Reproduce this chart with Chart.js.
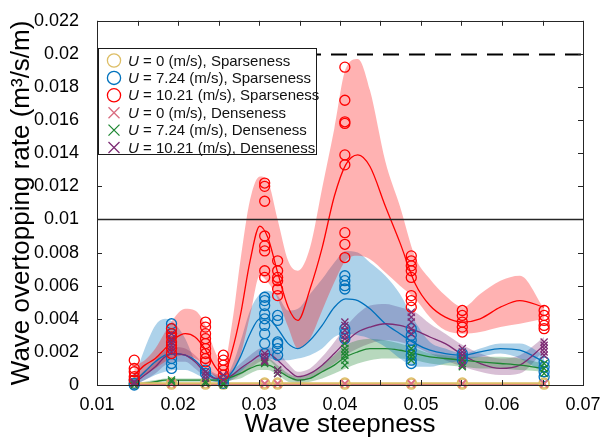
<!DOCTYPE html>
<html>
<head>
<meta charset="utf-8">
<script src="https://cdn.jsdelivr.net/npm/chart.js@4.4.1/dist/chart.umd.min.js"></script>
<style>
  html, body { margin: 0; padding: 0; background: #fff; }
  canvas { display: block; }
</style>
</head>
<body>
<canvas id="chart" width="607" height="442"></canvas>
<script>
// wave steepness of each test condition (marker columns)
const steepness = [0.0146, 0.0192, 0.0234, 0.0256, 0.0307, 0.0323, 0.0406, 0.0488, 0.0551, 0.0652];

// measured overtopping rates, one list per column
const u0Sparse = [
    [0.00012, 0.00005], [0.00012, 0.00005], [0.00012, 0.00005], [0.00012, 0.00005], [0.00012, 0.00005],
    [0.00012, 0.00005], [0.00012, 0.00005], [0.00012, 0.00005], [0.00012, 0.00005], [0.00012, 0.00005]
];
const u724Sparse = [
    [0.0003, 0.0001, 0.0],
    [0.0037, 0.0034, 0.0031, 0.0016, 0.0013, 0.001],
    [0.0009, 0.0007],
    [0.0003, 0.0001],
    [0.0053, 0.0051, 0.0048, 0.0043, 0.004, 0.0036, 0.0031, 0.0025, 0.0019],
    [0.0042, 0.0039, 0.0026, 0.0025, 0.0022, 0.0018],
    [0.0066, 0.0063, 0.006, 0.0058, 0.0034, 0.0031, 0.0028],
    [0.0034, 0.003, 0.0027, 0.0024, 0.0021, 0.0018, 0.0015, 0.0013],
    [0.0019, 0.0017, 0.0015],
    [0.0014, 0.0011, 0.0008, 0.0005]
];
const u1021Sparse = [
    [0.0015, 0.001, 0.0008, 0.0005, 0.0003],
    [0.0034, 0.0031, 0.0029, 0.0026, 0.0024, 0.0022, 0.0019],
    [0.0038, 0.0035, 0.0031, 0.0028, 0.0025, 0.0022, 0.0019, 0.0016, 0.0014],
    [0.0018, 0.0015, 0.0012, 0.0009, 0.0006],
    [0.0122, 0.012, 0.0111, 0.009, 0.0084, 0.0081, 0.0069, 0.0065],
    [0.0075, 0.0069, 0.0065, 0.0063, 0.0058, 0.0054],
    [0.0192, 0.0172, 0.0159, 0.0158, 0.0139, 0.0133, 0.0092, 0.0085, 0.0077],
    [0.0078, 0.0075, 0.0072, 0.0069, 0.0065, 0.0054, 0.0051, 0.0047],
    [0.0045, 0.0042, 0.0038, 0.0035, 0.0032],
    [0.0045, 0.0042, 0.0039, 0.0036, 0.0034]
];
const u0Dense = [
    [0.0001, 0.00005], [0.0001, 0.00005], [0.0001, 0.00005], [0.0001, 0.00005], [0.0001, 0.00005],
    [0.0001, 0.00005], [0.0001, 0.00005], [0.0001, 0.00005], [0.0001, 0.00005], [0.0001, 0.00005]
];
const u724Dense = [
    [0.0001, 0.0],
    [0.0003, 0.0002],
    [0.0002, 0.0001],
    [0.0001, 0.0],
    [0.0014, 0.0013],
    [0.0009, 0.0007],
    [0.0025, 0.0022, 0.002, 0.0018, 0.0015, 0.0012],
    [0.0022, 0.0019, 0.0017, 0.0015],
    [0.0016, 0.0013, 0.0011],
    [0.0013, 0.001, 0.0007]
];
const u1021Dense = [
    [0.0002, 0.0001],
    [0.0031, 0.0028, 0.0026, 0.0024, 0.0022, 0.002],
    [0.0008, 0.0006, 0.0004],
    [0.0006, 0.0003],
    [0.0019, 0.0017, 0.0015, 0.0014],
    [0.0009, 0.0007],
    [0.0038, 0.0036, 0.0033, 0.003, 0.0028],
    [0.0044, 0.0041, 0.0038, 0.0034, 0.0031],
    [0.0022, 0.002, 0.0018, 0.0015, 0.0012],
    [0.0026, 0.0024, 0.0022, 0.002, 0.0018]
];

// fitted curves and their bands, read at these steepness values
const curveX = [0.0146, 0.0159, 0.0172, 0.0184, 0.0196, 0.0209, 0.0221, 0.0233, 0.0246, 0.0256,
    0.0267, 0.0277, 0.0289, 0.0301, 0.0311, 0.0323, 0.0336, 0.0348, 0.0363, 0.0378,
    0.0393, 0.0407, 0.0422, 0.0437, 0.0456, 0.0474, 0.0493, 0.0511, 0.0530, 0.0552,
    0.0573, 0.0598, 0.0622, 0.0652];

const fit1021Sparse = [0.0006, 0.0012, 0.0016, 0.0022, 0.0028, 0.0031, 0.0029, 0.0022, 0.0011, 0.0006,
    0.0021, 0.0042, 0.0075, 0.0096, 0.0089, 0.0068, 0.0047, 0.0039, 0.0058, 0.0083,
    0.0114, 0.0133, 0.0139, 0.0132, 0.0108, 0.0086, 0.0061, 0.0048, 0.0041, 0.0038,
    0.004, 0.0047, 0.0051, 0.0047];
const hi1021Sparse = [0.0012, 0.0015, 0.0022, 0.0032, 0.0041, 0.0046, 0.0045, 0.0037, 0.002, 0.0012,
    0.0038, 0.0075, 0.0112, 0.0126, 0.0123, 0.01, 0.0075, 0.0069, 0.0083, 0.0119,
    0.0155, 0.0191, 0.0197, 0.0178, 0.0135, 0.0108, 0.0077, 0.0064, 0.0054, 0.0047,
    0.0055, 0.0063, 0.0066, 0.0046];
const lo1021Sparse = [0.0002, 0.0006, 0.001, 0.0014, 0.0017, 0.0018, 0.0016, 0.0012, 0.0005, 0.0002,
    0.0008, 0.0018, 0.0042, 0.0066, 0.0062, 0.0052, 0.0035, 0.0022, 0.0028, 0.0045,
    0.0062, 0.0075, 0.0078, 0.0076, 0.0068, 0.006, 0.0052, 0.0041, 0.0033, 0.0031,
    0.0032, 0.0035, 0.0037, 0.004];

const fit724Sparse = [0.0002, 0.0008, 0.0014, 0.0018, 0.0019, 0.0018, 0.0015, 0.0009, 0.0004, 0.0003,
    0.0008, 0.0017, 0.0031, 0.004, 0.004, 0.0034, 0.0025, 0.0022, 0.0027, 0.0036,
    0.0047, 0.0052, 0.0051, 0.0046, 0.0037, 0.0031, 0.0025, 0.0021, 0.0019, 0.0018,
    0.002, 0.0022, 0.0021, 0.0014];
const hi724Sparse = [0.0004, 0.0022, 0.0036, 0.004, 0.0037, 0.0028, 0.0015, 0.001, 0.0006, 0.0004,
    0.0012, 0.0026, 0.0045, 0.0055, 0.0057, 0.0054, 0.0045, 0.0046, 0.0055, 0.0064,
    0.0074, 0.0081, 0.008, 0.0074, 0.0066, 0.0055, 0.0038, 0.0026, 0.0022, 0.0019,
    0.0022, 0.0025, 0.0025, 0.0018];
const lo724Sparse = [0.0, 0.0003, 0.0006, 0.0008, 0.0009, 0.0009, 0.0007, 0.0004, 0.0002, 0.0001,
    0.0004, 0.0008, 0.0013, 0.0016, 0.0016, 0.0015, 0.0015, 0.0016, 0.0018, 0.0022,
    0.0029, 0.0031, 0.003, 0.0028, 0.0023, 0.0016, 0.0011, 0.0011, 0.0013, 0.0015,
    0.0017, 0.0019, 0.0016, 0.0007];

const fit1021Dense = [0.0001, 0.0006, 0.0011, 0.0017, 0.0019, 0.0018, 0.0014, 0.0008, 0.0004, 0.0004,
    0.0006, 0.001, 0.0014, 0.0018, 0.0019, 0.0015, 0.0009, 0.0005, 0.0007, 0.0012,
    0.0019, 0.0026, 0.0032, 0.0035, 0.0037, 0.0036, 0.0033, 0.0029, 0.0025, 0.0018,
    0.0013, 0.001, 0.0012, 0.0024];
const hi1021Dense = [0.0003, 0.0009, 0.0015, 0.0021, 0.0023, 0.0022, 0.0018, 0.0012, 0.0007, 0.0006,
    0.0009, 0.0013, 0.0018, 0.0022, 0.0023, 0.002, 0.0013, 0.0008, 0.001, 0.0017,
    0.0026, 0.0035, 0.0043, 0.0048, 0.0049, 0.0047, 0.0044, 0.0037, 0.0031, 0.0024,
    0.0019, 0.0016, 0.0018, 0.0029];
const lo1021Dense = [0.0, 0.0003, 0.0007, 0.0012, 0.0014, 0.0014, 0.001, 0.0005, 0.0002, 0.0002,
    0.0003, 0.0006, 0.001, 0.0014, 0.0015, 0.001, 0.0005, 0.0002, 0.0004, 0.0008,
    0.0013, 0.0018, 0.0022, 0.0025, 0.0027, 0.0026, 0.0023, 0.0019, 0.0015, 0.0011,
    0.0008, 0.0006, 0.0007, 0.0021];

const fit724Dense = [0.0, 0.0001, 0.0002, 0.0003, 0.0003, 0.0003, 0.0003, 0.0003, 0.0003, 0.0003,
    0.0005, 0.0007, 0.001, 0.0012, 0.0012, 0.0009, 0.0005, 0.0003, 0.0004, 0.0008,
    0.0012, 0.0017, 0.002, 0.0022, 0.0022, 0.0021, 0.0019, 0.0017, 0.0016, 0.0015,
    0.0014, 0.0013, 0.0012, 0.001];
const hi724Dense = [0.0001, 0.0002, 0.0003, 0.0004, 0.0004, 0.0004, 0.0004, 0.0004, 0.0004, 0.0004,
    0.0007, 0.001, 0.0013, 0.0016, 0.0016, 0.0012, 0.0007, 0.0005, 0.0007, 0.0012,
    0.0018, 0.0024, 0.0027, 0.0028, 0.0027, 0.0025, 0.0022, 0.0019, 0.0018, 0.0017,
    0.0017, 0.0017, 0.0016, 0.0013];
const lo724Dense = [0.0, 0.0, 0.0001, 0.0002, 0.0002, 0.0002, 0.0002, 0.0002, 0.0002, 0.0002,
    0.0003, 0.0004, 0.0007, 0.0009, 0.0009, 0.0006, 0.0002, 0.0001, 0.0002, 0.0004,
    0.0007, 0.001, 0.0013, 0.0015, 0.0016, 0.0016, 0.0015, 0.0013, 0.0012, 0.0011,
    0.001, 0.001, 0.0009, 0.0008];

// the U = 0 fits lie on the floor
const fit0Sparse = [0.0001, 0.0001, 0.0001, 0.0001, 0.0001, 0.0001, 0.0001, 0.0001, 0.0001, 0.0001];
const fit0Dense = [0.00005, 0.00005, 0.00005, 0.00005, 0.00005, 0.00005, 0.00005, 0.00005, 0.00005, 0.00005];

const yTicks = [0, 0.002, 0.004, 0.006, 0.008, 0.01, 0.012, 0.014, 0.016, 0.018, 0.02, 0.022];
const xTickMarks = [0.01, 0.015, 0.02, 0.025, 0.03, 0.035, 0.04, 0.045, 0.05, 0.055, 0.06, 0.065, 0.07];
const limitLines = [0.01, 0.02];

const FONT = '"Liberation Sans", Arial, sans-serif';

const series = [
    { speed: '0', kind: 'Sparseness', color: '#DDBE66', marker: 'circle', pts: u0Sparse },
    { speed: '7.24', kind: 'Sparseness', color: '#0072BD', marker: 'circle', pts: u724Sparse },
    { speed: '10.21', kind: 'Sparseness', color: '#FF0000', marker: 'circle', pts: u1021Sparse },
    { speed: '0', kind: 'Denseness', color: '#D96C80', marker: 'crossRot', pts: u0Dense },
    { speed: '7.24', kind: 'Denseness', color: '#1E8732', marker: 'crossRot', pts: u724Dense },
    { speed: '10.21', kind: 'Denseness', color: '#7D2C74', marker: 'crossRot', pts: u1021Dense }
];

function toXY(xs, ys) {
    return xs.map((x, i) => ({ x: x, y: ys[i] }));
}

const datasets = [];

// shaded bands (lower edge first, upper edge fills down to it)
function addBand(lo, hi, rgba) {
    const loIndex = datasets.length;
    datasets.push({
        data: toXY(curveX, lo), showLine: true, pointRadius: 0, borderWidth: 0,
        borderColor: 'rgba(0,0,0,0)', cubicInterpolationMode: 'monotone', fill: false, order: 30
    });
    datasets.push({
        data: toXY(curveX, hi), showLine: true, pointRadius: 0, borderWidth: 0,
        borderColor: 'rgba(0,0,0,0)', backgroundColor: rgba, cubicInterpolationMode: 'monotone',
        fill: loIndex, order: 30
    });
}
addBand(lo1021Sparse, hi1021Sparse, 'rgba(255,0,0,0.3)');
addBand(lo724Sparse, hi724Sparse, 'rgba(0,114,189,0.32)');
addBand(lo724Dense, hi724Dense, 'rgba(30,135,50,0.32)');
addBand(lo1021Dense, hi1021Dense, 'rgba(125,44,116,0.3)');

// fitted lines
function addCurve(xs, ys, color, width) {
    datasets.push({
        data: toXY(xs, ys), showLine: true, pointRadius: 0, borderWidth: width || 1.3,
        borderColor: color, cubicInterpolationMode: 'monotone', fill: false, order: 20
    });
}
addCurve(steepness, fit0Sparse, '#DDBE66', 2);
addCurve(steepness, fit0Dense, '#D96C80', 2.5);
addCurve(curveX, fit724Dense, '#1E8732');
addCurve(curveX, fit1021Dense, '#7D2C74');
addCurve(curveX, fit724Sparse, '#0072BD');
addCurve(curveX, fit1021Sparse, '#FF0000');

// measured points
series.forEach((s, i) => {
    const pts = [];
    s.pts.forEach((col, c) => col.forEach(v => pts.push({ x: steepness[c], y: v })));
    datasets.push({
        data: pts, pointStyle: s.marker, pointRadius: 5, borderWidth: 1.3,
        borderColor: s.color, backgroundColor: 'rgba(0,0,0,0)', showLine: false,
        clip: false, order: 16 - i
    });
});

// frame, inward ticks, limit lines and legend
const decorPlugin = {
    id: 'decor',
    afterDatasetsDraw(chart) {
        const ctx = chart.ctx;
        const { left, right } = chart.chartArea;
        const y = chart.scales.y;
        ctx.save();
        limitLines.forEach(v => {
            const py = Math.round(y.getPixelForValue(v)) + 0.5;
            ctx.beginPath();
            if (v === 0.02) {
                ctx.setLineDash([16, 10]);
                ctx.strokeStyle = '#000';
                ctx.lineWidth = 1.8;
            } else {
                ctx.setLineDash([]);
                ctx.strokeStyle = '#262626';
                ctx.lineWidth = 1.5;
            }
            ctx.moveTo(left, py);
            ctx.lineTo(right, py);
            ctx.stroke();
        });
        ctx.restore();
    },
    afterDraw(chart) {
        const ctx = chart.ctx;
        const { left, right, top, bottom } = chart.chartArea;
        const x = chart.scales.x;
        const y = chart.scales.y;
        ctx.save();
        ctx.strokeStyle = '#262626';
        ctx.lineWidth = 1;
        ctx.strokeRect(Math.round(left) + 0.5, Math.round(top) + 0.5,
            Math.round(right - left), Math.round(bottom - top));
        const tl = 5;
        ctx.beginPath();
        yTicks.forEach(v => {
            const py = Math.round(y.getPixelForValue(v)) + 0.5;
            ctx.moveTo(left, py); ctx.lineTo(left + tl, py);
            ctx.moveTo(right, py); ctx.lineTo(right - tl, py);
        });
        xTickMarks.forEach(v => {
            const px = Math.round(x.getPixelForValue(v)) + 0.5;
            ctx.moveTo(px, bottom); ctx.lineTo(px, bottom - tl);
            ctx.moveTo(px, top); ctx.lineTo(px, top + tl);
        });
        ctx.stroke();

        // legend
        const bx = 98.5, by = 48.5, bw = 218, bh = 106;
        ctx.fillStyle = '#fff';
        ctx.fillRect(bx, by, bw, bh);
        ctx.strokeStyle = '#1a1a1a';
        ctx.strokeRect(bx, by, bw, bh);
        series.forEach((s, i) => {
            const cy = 60.5 + i * 17.4;
            const mx = 114;
            ctx.strokeStyle = s.color;
            ctx.lineWidth = 1.3;
            ctx.beginPath();
            if (s.marker === 'circle') {
                ctx.arc(mx, cy, 6.6, 0, Math.PI * 2);
            } else {
                ctx.moveTo(mx - 5.5, cy - 5.5); ctx.lineTo(mx + 5.5, cy + 5.5);
                ctx.moveTo(mx + 5.5, cy - 5.5); ctx.lineTo(mx - 5.5, cy + 5.5);
            }
            ctx.stroke();
            ctx.fillStyle = '#111';
            ctx.textBaseline = 'middle';
            ctx.font = 'italic 15px ' + FONT;
            ctx.fillText('U', 128, cy + 1);
            const w = ctx.measureText('U').width;
            ctx.font = '15px ' + FONT;
            ctx.fillText(' = ' + s.speed + ' (m/s), ' + s.kind, 128 + w, cy + 1);
        });
        ctx.restore();
    }
};

new Chart(document.getElementById('chart'), {
    type: 'scatter',
    data: { datasets: datasets },
    options: {
        responsive: false,
        animation: false,
        layout: { padding: { top: 12, right: 24, left: 0, bottom: 0 } },
        plugins: { legend: { display: false }, tooltip: { enabled: false } },
        scales: {
            x: {
                type: 'linear', min: 0.01, max: 0.07,
                grid: { display: false }, border: { display: false },
                ticks: {
                    stepSize: 0.01, color: '#000', padding: 1,
                    font: { family: FONT, size: 18 },
                    callback: v => String(+v.toFixed(2))
                },
                title: {
                    display: true, text: 'Wave steepness', color: '#000',
                    font: { family: FONT, size: 26 }, padding: { top: 0, bottom: 2 }
                },
                afterFit: s => { s.height = 57; }
            },
            y: {
                type: 'linear', min: 0, max: 0.022,
                grid: { display: false }, border: { display: false },
                ticks: {
                    stepSize: 0.002, color: '#000', padding: 10,
                    font: { family: FONT, size: 18 },
                    callback: v => String(+v.toFixed(3))
                },
                title: {
                    display: true, text: 'Wave overtopping rate (m\u00b3/s/m)', color: '#000',
                    font: { family: FONT, size: 26 }, padding: { top: 6, bottom: 0 }
                },
                afterFit: s => { s.width = 97; }
            }
        }
    },
    plugins: [decorPlugin]
});
</script>
</body>
</html>
